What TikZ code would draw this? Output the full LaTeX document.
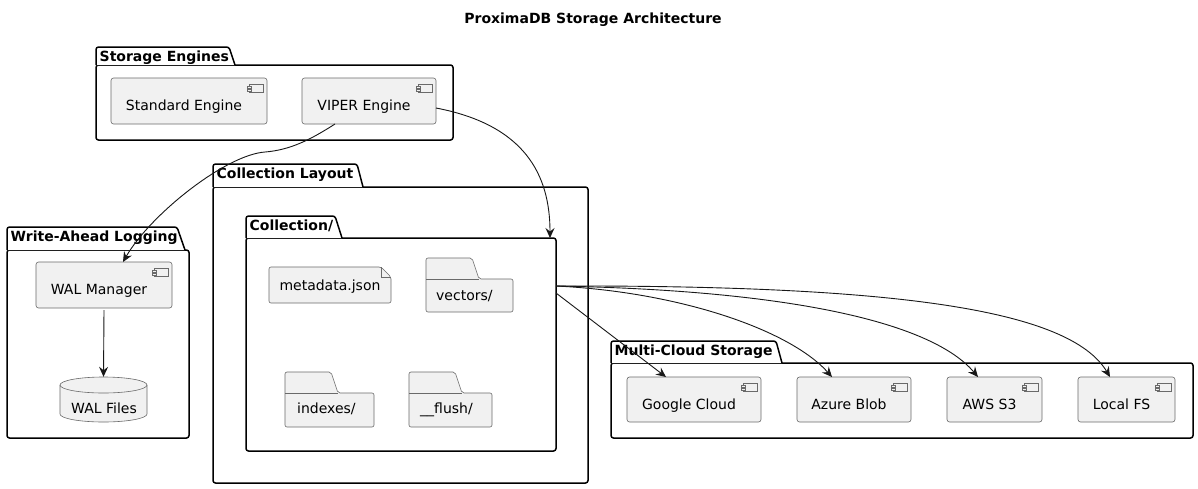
\documentclass[tikz,border=0pt]{standalone}
\usepackage{fontspec}
\setmainfont{DejaVu Sans}
\usetikzlibrary{arrows.meta}
\definecolor{compfill}{HTML}{F1F1F1}
\definecolor{cborder}{HTML}{6A6A6A}
\definecolor{lnc}{HTML}{181818}
\tikzset{
  comp/.style={draw=cborder, fill=compfill, line width=0.6pt, rounded corners=2.5pt, inner sep=0pt, outer sep=0pt},
  icon/.style={draw=cborder, fill=compfill, line width=0.6pt},
  pkg/.style={draw=black, fill=white, line width=1.5pt, rounded corners=2.5pt, inner sep=0pt, outer sep=0pt},
  pkgtab/.style={draw=black, fill=white, line width=1.5pt, rounded corners=2.5pt},
  shp/.style={draw=cborder, fill=compfill, line width=0.6pt, rounded corners=2pt},
  lbl/.style={inner sep=0pt, font=\fontsize{14}{16}\selectfont, text=black},
  plbl/.style={inner sep=0pt, font=\fontsize{14}{16}\selectfont\bfseries, text=black},
  conn/.style={draw=lnc, line width=0.9pt, -{Stealth[length=10pt,width=9pt,inset=3.5pt]}},
}
\newcommand{\mkcomp}[6]{%
  \node[comp, minimum width=#4pt, minimum height=#5pt] (#1) at (#2,#3) {};
  \node[lbl, anchor=base] (#1-t) at ([xshift=-5pt,yshift=-9.5pt]#1.center) {#6};
  \draw[icon] ([xshift=-18pt,yshift=-6pt]#1.north east) rectangle ++(14,8);
  \draw[icon] ([xshift=-20pt,yshift=-8pt]#1.north east) rectangle ++(4,2);
  \draw[icon] ([xshift=-20pt,yshift=-11pt]#1.north east) rectangle ++(4,2);
}
\newcommand{\mkpkg}[9]{%
  \node[pkg, minimum width={#4-#2}, minimum height={#5-#3}] (#1) at ({(#2+#4)/2},{(#3+#5)/2}) {};
  \filldraw[pkgtab] (#2,#3) -- (#2,#6) -- (#7,#6) -- (#8,#3);
  \node[plbl, anchor=base west] (#1-t) at ({#2+3.5},{#6+14}) {#9};
}
\begin{document}
\begin{tikzpicture}[x=1pt,y=-1pt]
\useasboundingbox[fill=white] (0,0) rectangle (1198,488);

\node[plbl, anchor=base] (title) at (593,23) {ProximaDB Storage Architecture};

% Storage Engines
\mkpkg{se}{96}{65}{453}{140}{47}{229}{235}{Storage Engines}
\mkcomp{std}{189}{101}{156}{46}{Standard Engine}
\mkcomp{viper}{369}{101}{134}{46}{VIPER Engine}

% Collection Layout
\mkpkg{cl}{213}{187}{588}{483}{164}{357}{363}{Collection Layout}
\mkpkg{coll}{246}{238}{556}{451}{216}{335}{342}{Collection/}

% metadata.json note
\draw[shp] (269,267) -- (381,267) -- (391,277) -- (391,303) -- (269,303) -- cycle;
\draw[icon, fill=none] (381,267) -- (381,277) -- (391,277);
\node[lbl, anchor=base] (meta) at (330,290) {metadata.json};

% folders
\draw[shp] (426,312) -- (426,258) -- (472,258) -- (479,279) -- (513,279) -- (513,312) -- cycle;
\draw[icon] (426,279) -- (479,279);
\node[lbl, anchor=base west] (vec) at (436,300) {vectors/};

\draw[shp] (285,427) -- (285,372) -- (331,372) -- (338,393) -- (374,393) -- (374,427) -- cycle;
\draw[icon] (285,393) -- (338,393);
\node[lbl, anchor=base west] (idx) at (297,413) {indexes/};

\draw[shp] (409,427) -- (409,372) -- (455,372) -- (462,393) -- (492,393) -- (492,427) -- cycle;
\draw[icon] (409,393) -- (462,393);
\node[lbl, anchor=base west] (fl) at (420,413) {\_\_flush/};

% Write-Ahead Logging
\mkpkg{wal}{7}{250}{189}{438}{227}{177}{185}{Write-Ahead Logging}
\mkcomp{walm}{104}{285}{136}{46}{WAL Manager}

% WAL Files database
\node[inner sep=0pt, minimum width=87pt, minimum height=45pt] (walf) at (103.5,399.5) {};
\draw[shp, rounded corners=0pt] (60,385) arc[start angle=180, end angle=360, x radius=43.5, y radius=8]
  -- (147,414) arc[start angle=0, end angle=180, x radius=43.5, y radius=8] -- cycle;
\draw[icon, fill=none] (60,385) arc[start angle=180, end angle=0, x radius=43.5, y radius=8];
\node[lbl, anchor=base] (walf-t) at (104,413) {WAL Files};

% Multi-Cloud Storage
\mkpkg{mc}{611}{363}{1193}{438}{341}{776}{782}{Multi-Cloud Storage}
\mkcomp{google}{694}{399.5}{134}{45}{Google Cloud}
\mkcomp{azure}{854}{399.5}{114}{45}{Azure Blob}
\mkcomp{aws}{994.5}{399.5}{95}{45}{AWS S3}
\mkcomp{local}{1126.5}{399.5}{97}{45}{Local FS}

% connectors
\draw[conn] ([xshift=-34pt]viper.south) .. controls (310,140) and (290,150) .. (265,152)
   .. controls (225,155) and (150,215) .. ([xshift=19pt]walm.north);
\draw[conn] ([yshift=-7pt]viper.east) .. controls (525,125) and (550,175) .. ([xshift=-6pt]coll.north east);
\draw[conn] ([yshift=-2pt]walm.south) -- (walf.north);
\draw[conn] ([yshift=51.5pt]coll.east) -- ([xshift=-28pt]google.north);
\draw[conn] ([yshift=58.5pt]coll.east) .. controls (680,292) and (790,330) .. ([xshift=-22pt]azure.north);
\draw[conn] ([yshift=58.5pt]coll.east) .. controls (780,290) and (930,320) .. ([xshift=-16.5pt]aws.north);
\draw[conn] ([yshift=58.5pt]coll.east) .. controls (900,285) and (1070,310) .. ([xshift=-16.5pt]local.north);
\end{tikzpicture}
\end{document}
